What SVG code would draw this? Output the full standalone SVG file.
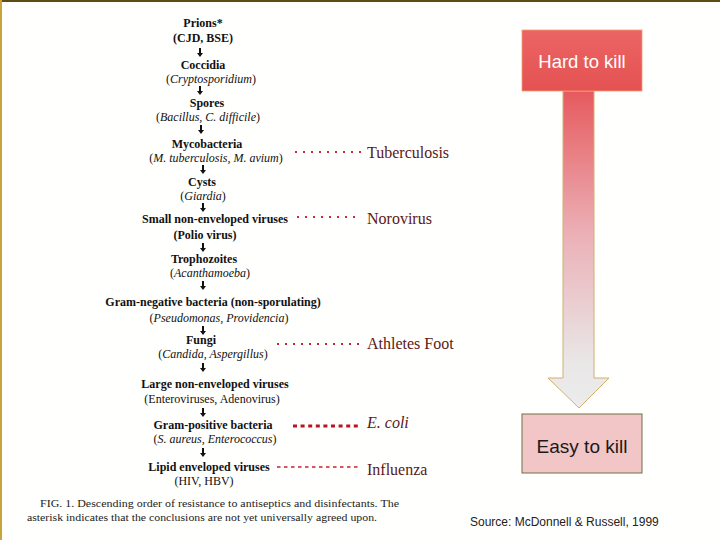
<svg xmlns="http://www.w3.org/2000/svg" xmlns:xlink="http://www.w3.org/1999/xlink" width="720" height="540" viewBox="0 0 720 540">
<style>
.t{font-family:"Liberation Serif","Times New Roman",serif;font-size:12px;fill:#111;text-anchor:middle}
.b{font-weight:bold}
.i{font-style:italic}
.lab{font-family:"Liberation Serif","Times New Roman",serif;font-size:16px;fill:#5a1818}
.dot{stroke:#d0283a;stroke-width:2;stroke-dasharray:2 6;fill:none}
.cap{font-family:"Liberation Serif","Times New Roman",serif;font-size:10.5px;fill:#222}
</style>
<defs>
<path id="ar" d="M-1,-5 L1,-5 L1,0 L3,0 L0,4 L-3,0 L-1,0 Z" fill="#111"/>
<linearGradient id="hg" x1="0" y1="0" x2="0" y2="1">
<stop offset="0" stop-color="#ec6464"/><stop offset="1" stop-color="#e45252"/>
</linearGradient>
<linearGradient id="sg" x1="0" y1="91" x2="0" y2="408" gradientUnits="userSpaceOnUse">
<stop offset="0" stop-color="#e65a5e"/><stop offset="0.45" stop-color="#ebb0b6"/><stop offset="0.85" stop-color="#e9e6e6"/><stop offset="1" stop-color="#ececec"/>
</linearGradient>
</defs>
<rect x="0" y="0" width="720" height="540" fill="#fffffd"/>
<line x1="0" y1="1" x2="720" y2="1" stroke="#5e4c14" stroke-width="2"/>
<line x1="1" y1="0" x2="1" y2="540" stroke="#c9a43a" stroke-width="2"/>

<g id="chain">
<text class="t b" x="203" y="27">Prions*</text>
<text class="t b" x="203" y="42">(CJD, BSE)</text>
<use xlink:href="#ar" x="200" y="53"/>
<text class="t b" x="203" y="69">Coccidia</text>
<text class="t" x="211" y="83">(<tspan class="i">Cryptosporidium</tspan>)</text>
<use xlink:href="#ar" x="200" y="91"/>
<text class="t b" x="207" y="107">Spores</text>
<text class="t" x="208" y="121">(<tspan class="i">Bacillus, C. difficile</tspan>)</text>
<use xlink:href="#ar" x="201" y="130"/>
<text class="t b" x="207" y="148">Mycobacteria</text>
<text class="t" x="216" y="162">(<tspan class="i">M. tuberculosis, M. avium</tspan>)</text>
<use xlink:href="#ar" x="203" y="170"/>
<text class="t b" x="202" y="186">Cysts</text>
<text class="t" x="203" y="200">(<tspan class="i">Giardia</tspan>)</text>
<use xlink:href="#ar" x="203" y="208"/>
<text class="t b" x="215" y="223">Small non-enveloped viruses</text>
<text class="t b" x="205" y="239">(Polio virus)</text>
<use xlink:href="#ar" x="203" y="248"/>
<text class="t b" x="204" y="263">Trophozoites</text>
<text class="t" x="210" y="277">(<tspan class="i">Acanthamoeba</tspan>)</text>
<use xlink:href="#ar" x="203" y="286"/>
<text class="t b" x="213" y="306">Gram-negative bacteria (non-sporulating)</text>
<text class="t" x="219" y="322">(<tspan class="i">Pseudomonas, Providencia</tspan>)</text>
<use xlink:href="#ar" x="203" y="331"/>
<text class="t b" x="201" y="344">Fungi</text>
<text class="t" x="213" y="358">(<tspan class="i">Candida, Aspergillus</tspan>)</text>
<use xlink:href="#ar" x="203" y="368"/>
<text class="t b" x="215" y="388">Large non-enveloped viruses</text>
<text class="t" x="212" y="403">(Enteroviruses, Adenovirus)</text>
<use xlink:href="#ar" x="203" y="413"/>
<text class="t b" x="213" y="429">Gram-positive bacteria</text>
<text class="t" x="215" y="443">(<tspan class="i">S. aureus, Enterococcus</tspan>)</text>
<use xlink:href="#ar" x="203" y="453"/>
<text class="t b" x="209" y="471">Lipid enveloped viruses</text>
<text class="t" x="204" y="485">(HIV, HBV)</text>
</g>

<g id="connectors">
<line class="dot" x1="295" y1="152" x2="361" y2="152"/>
<line class="dot" x1="297" y1="217" x2="361" y2="217"/>
<line class="dot" x1="277" y1="344" x2="361" y2="344"/>
<line x1="293" y1="426" x2="361" y2="426" stroke="#b81424" stroke-width="3" stroke-dasharray="4 3.6"/>
<line x1="277" y1="467" x2="361" y2="467" stroke="#cc2030" stroke-width="1.6" stroke-dasharray="3.5 3.5"/>
</g>

<g id="labels">
<text class="lab" x="367" y="158">Tuberculosis</text>
<text class="lab" x="367" y="224">Norovirus</text>
<text class="lab" x="367" y="349">Athletes Foot</text>
<text class="lab" x="367" y="428" font-style="italic">E. coli</text>
<text class="lab" x="367" y="475">Influenza</text>
</g>

<g id="scale-arrow">
<path d="M563,91 L594,91 L594,378 L609,378 L579,408 L548,378 L563,378 Z" fill="url(#sg)" stroke="#d2b070" stroke-width="1"/>
</g>
<g id="hard">
<rect x="522" y="30" width="120" height="61" fill="url(#hg)" stroke="#f0a070" stroke-width="0.8"/>
<text x="582" y="68" font-family="Liberation Sans, Arial, sans-serif" font-size="18.5" fill="#fff" text-anchor="middle">Hard to kill</text>
</g>
<g id="easy">
<rect x="522" y="414" width="120" height="59" fill="#f2c6c6" stroke="#6e7048" stroke-width="1"/>
<text x="582" y="453" font-family="Liberation Sans, Arial, sans-serif" font-size="19" fill="#1a1a1a" text-anchor="middle">Easy to kill</text>
</g>

<g id="captions">
<text class="cap" x="40" y="507" textLength="359" lengthAdjust="spacingAndGlyphs">FIG. 1. Descending order of resistance to antiseptics and disinfectants. The</text>
<text class="cap" x="27" y="521" textLength="350" lengthAdjust="spacingAndGlyphs">asterisk indicates that the conclusions are not yet universally agreed upon.</text>
<text x="470" y="526" font-family="Liberation Sans, Arial, sans-serif" font-size="12" fill="#222">Source: McDonnell &amp; Russell, 1999</text>
</g>
</svg>
